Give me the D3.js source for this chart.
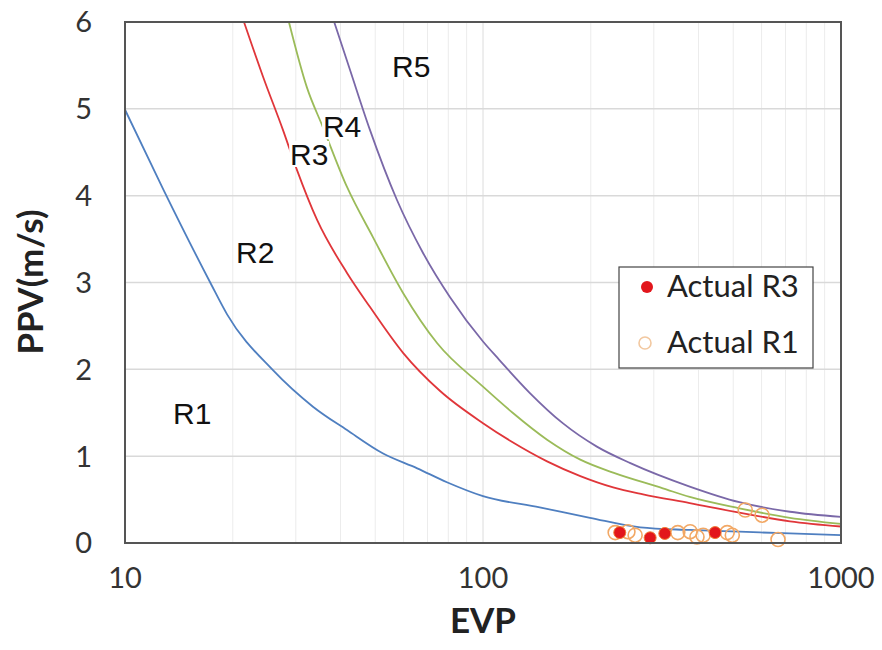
<!DOCTYPE html>
<html>
  <head>
    <meta charset="utf-8">
    <title>PPV vs EVP</title>
    <style media="screen">
    body{margin:0;background:#fff}
    </style>
  </head>
  <body>
    <svg width="882" height="650"></svg>
    <script src="https://d3js.org/d3.v7.min.js"></script>
    <script>

    // boundary curves, [EVP, PPV]
    var r1Line = [[10,4.99],[12.8,4.07],[17.3,3.0],[19.3,2.63],[25.9,1.99],[33.5,1.57],[41.7,1.30],[52.6,1.03],
      [65.5,0.86],[79.3,0.70],[100,0.54],[144,0.41],[199,0.29],[275,0.18],[378,0.15],[520,0.13],[720,0.11],[1000,0.09]];
    var r3Line = [[21.5,6.0],[24.3,5.37],[27.6,4.76],[30.2,4.30],[34.4,3.72],[41.7,3.11],[48.3,2.72],[59.8,2.19],
      [75.9,1.75],[100,1.38],[121,1.16],[151,0.94],[187,0.77],[231,0.64],[280,0.56],[378,0.46],[520,0.35],[720,0.25],[1000,0.19]];
    var r4Line = [[28.7,6.0],[32.2,5.25],[35.7,4.79],[41.7,4.10],[49.3,3.52],[59.8,2.88],[74.5,2.30],[100,1.80],
      [121,1.50],[151,1.19],[187,0.96],[231,0.81],[318,0.63],[378,0.53],[520,0.40],[720,0.29],[1000,0.22]];
    var r5Line = [[38.4,6.0],[42.5,5.45],[48.3,4.76],[57.5,3.95],[68,3.34],[80.9,2.83],[100,2.32],[111,2.11],
      [135,1.73],[167,1.38],[208,1.11],[258,0.92],[378,0.65],[520,0.47],[720,0.36],[1000,0.30]];

    // measured points
    var actualR3 = [[241,0.12],[293,0.06],[322,0.11],[445,0.12]];
    var actualR1 = [[234,0.12],[254,0.13],[266,0.09],[350,0.12],[379,0.13],[396,0.07],[412,0.09],
      [481,0.12],[497,0.09],[540,0.38],[602,0.32],[667,0.04]];

    var xTicks = [10, 100, 1000];
    var yTicks = [0, 1, 2, 3, 4, 5, 6];
    var zoneLabels = [["R1",15.4,1.50],["R2",23.1,3.35],["R3",32.7,4.48],["R4",40.4,4.80],["R5",63,5.49]];

    var pLeft = 125, pRight = 841, pTop = 22, pBottom = 543;

    var x = d3.scaleLog().domain([10, 1000]).range([pLeft, pRight]);
    var y = d3.scaleLinear().domain([0, 6]).range([pBottom, pTop]);

    var svg = d3.select("svg");

    // grid
    var minor = [];
    [10, 100].forEach(function(d) { for (var k = 2; k <= 9; k++) minor.push(d * k); });
    svg.append("g").selectAll("line").data(minor).join("line")
      .attr("x1", d => x(d)).attr("x2", d => x(d)).attr("y1", pTop).attr("y2", pBottom)
      .attr("stroke", "#ececec").attr("stroke-width", 1);
    svg.append("line").attr("x1", x(100)).attr("x2", x(100)).attr("y1", pTop).attr("y2", pBottom)
      .attr("stroke", "#dcdcdc");
    svg.append("g").selectAll("line").data(yTicks.slice(1, -1)).join("line")
      .attr("x1", pLeft).attr("x2", pRight).attr("y1", d => y(d)).attr("y2", d => y(d))
      .attr("stroke", "#d9d9d9").attr("stroke-width", 1.5);

    // curves
    var line = d3.line().x(d => x(d[0])).y(d => y(d[1])).curve(d3.curveMonotoneX);
    var curves = [[r1Line, "#4f7fc0"], [r3Line, "#e0363a"], [r4Line, "#9bbb59"], [r5Line, "#7a68a8"]];
    svg.append("g").selectAll("path").data(curves).join("path")
      .attr("d", d => line(d[0])).attr("fill", "none")
      .attr("stroke", d => d[1]).attr("stroke-width", 1.8);

    // points
    svg.append("g").selectAll("circle").data(actualR1).join("circle")
      .attr("cx", d => x(d[0])).attr("cy", d => y(d[1])).attr("r", 7)
      .attr("fill", "none").attr("stroke", "#f2a865").attr("stroke-width", 1.6);
    svg.append("g").selectAll("circle").data(actualR3).join("circle")
      .attr("cx", d => x(d[0])).attr("cy", d => y(d[1])).attr("r", 6)
      .attr("fill", "#e2161c").attr("stroke", "#f07a30").attr("stroke-width", 1);

    // frame
    svg.append("rect").attr("x", pLeft).attr("y", pTop).attr("width", pRight - pLeft).attr("height", pBottom - pTop)
      .attr("fill", "none").attr("stroke", "#555").attr("stroke-width", 2);

    // zone labels
    var zl = svg.append("g").selectAll("g").data(zoneLabels).join("g")
      .attr("transform", d => "translate(" + x(d[1]) + "," + y(d[2]) + ")");
    zl.append("rect").attr("x", -20).attr("y", -13).attr("width", 40).attr("height", 26).attr("fill", "#fff");
    zl.append("text").text(d => d[0]).attr("text-anchor", "middle").attr("dy", "0.36em")
      .attr("font-family", "Liberation Sans, Arial, sans-serif").attr("font-size", 30).attr("fill", "#111");

    // tick labels
    svg.append("g").selectAll("text").data(yTicks).join("text")
      .attr("x", 92).attr("y", d => y(d)).attr("dy", "0.36em").attr("text-anchor", "end")
      .attr("font-family", "Lato, sans-serif").attr("font-size", 29).attr("fill", "#333")
      .text(d => d);
    svg.append("g").selectAll("text").data(xTicks).join("text")
      .attr("x", d => x(d)).attr("y", 588).attr("text-anchor", "middle")
      .attr("font-family", "Lato, sans-serif").attr("font-size", 29).attr("fill", "#333")
      .text(d => d);

    // axis titles
    svg.append("text").attr("x", x(100)).attr("y", 633).attr("text-anchor", "middle")
      .attr("font-family", "Lato, sans-serif").attr("font-weight", "bold").attr("font-size", 35)
      .attr("fill", "#222").text("EVP");
    svg.append("text").attr("transform", "translate(43,282) rotate(-90)").attr("text-anchor", "middle")
      .attr("font-family", "Lato, sans-serif").attr("font-weight", "bold").attr("font-size", 35)
      .attr("fill", "#222").text("PPV(m/s)");

    // legend
    var lg = svg.append("g").attr("transform", "translate(619,267)");
    lg.append("rect").attr("width", 194).attr("height", 101).attr("fill", "#fff")
      .attr("stroke", "#444").attr("stroke-width", 1.2);
    lg.append("circle").attr("cx", 28).attr("cy", 20).attr("r", 6).attr("fill", "#e2161c");
    lg.append("circle").attr("cx", 26).attr("cy", 76).attr("r", 6).attr("fill", "none")
      .attr("stroke", "#f2c8a0").attr("stroke-width", 1.6);
    lg.append("text").attr("x", 48).attr("y", 30).text("Actual R3")
      .attr("font-family", "Lato, sans-serif").attr("font-size", 31).attr("fill", "#222");
    lg.append("text").attr("x", 48).attr("y", 86).text("Actual R1")
      .attr("font-family", "Lato, sans-serif").attr("font-size", 31).attr("fill", "#222");

    </script>
  </body>
</html>
